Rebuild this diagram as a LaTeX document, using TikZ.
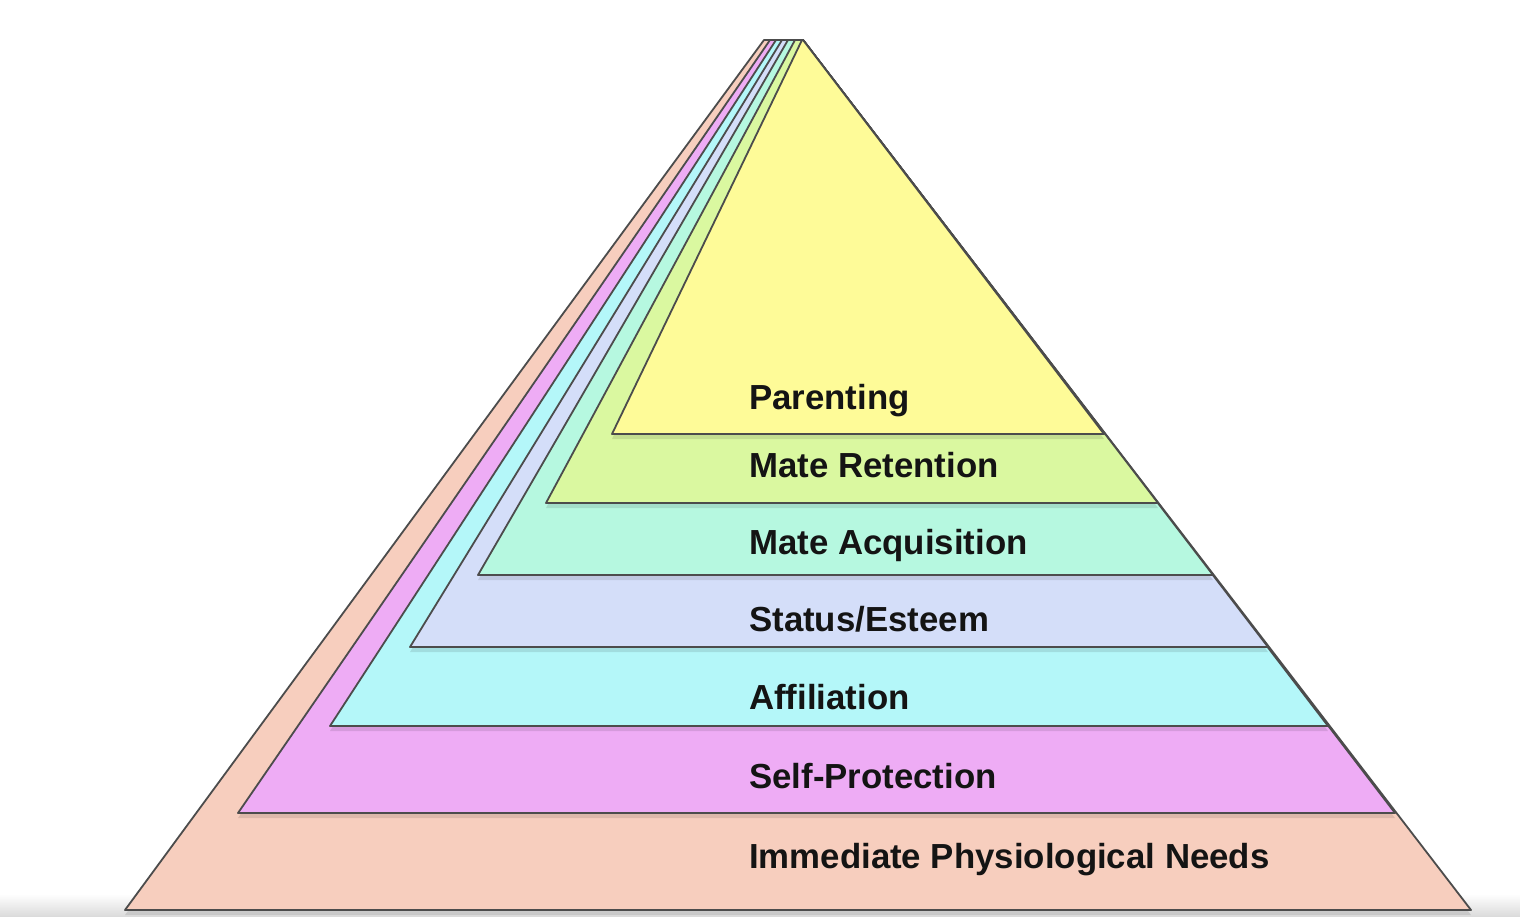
\documentclass[tikz,border=0pt]{standalone}
\usepackage{fontspec}
\setmainfont{Liberation Sans}
\usetikzlibrary{positioning}
\definecolor{physio}{RGB}{247,206,190}
\definecolor{protect}{RGB}{238,172,245}
\definecolor{affil}{RGB}{180,247,249}
\definecolor{status}{RGB}{212,222,249}
\definecolor{acquis}{RGB}{182,248,224}
\definecolor{retain}{RGB}{218,248,160}
\definecolor{parent}{RGB}{254,251,152}

\begin{document}
\begin{tikzpicture}[
    x=1pt,y=-1pt,
    layer/.style={draw=black!70,line width=1.8pt,line join=round},
    drop/.style={fill=black,opacity=0.10},
    lbl/.style={anchor=base west,inner sep=0pt,text=black!92,
      font=\fontsize{34.8}{40}\selectfont\bfseries}]
  \useasboundingbox (0,0) rectangle (1520,916);
  \shade[top color=white,bottom color=black!14] (0,894) rectangle (1520,916);

  % layers, bottom first, each with a soft shadow under its base
  \fill[drop] (764,44) -- (125,915) -- (1471,915) -- (803,44) -- cycle;
  \filldraw[layer,fill=physio] (764,40) -- (125,910) -- (1471,910) -- (803,40) -- cycle;
  \fill[drop] (770,44) -- (238,818) -- (1395,818) -- (803,44) -- cycle;
  \filldraw[layer,fill=protect] (770,40) -- (238,813) -- (1395,813) -- (803,40) -- cycle;
  \fill[drop] (776,44) -- (330,731) -- (1328,731) -- (803,44) -- cycle;
  \filldraw[layer,fill=affil] (776,40) -- (330,726) -- (1328,726) -- (803,40) -- cycle;
  \fill[drop] (782,44) -- (410,652) -- (1268,652) -- (803,44) -- cycle;
  \filldraw[layer,fill=status] (782,40) -- (410,647) -- (1268,647) -- (803,40) -- cycle;
  \fill[drop] (788,44) -- (478,580) -- (1213,580) -- (803,44) -- cycle;
  \filldraw[layer,fill=acquis] (788,40) -- (478,575) -- (1213,575) -- (803,40) -- cycle;
  \fill[drop] (795,44) -- (546,508) -- (1158,508) -- (803,44) -- cycle;
  \filldraw[layer,fill=retain] (795,40) -- (546,503) -- (1158,503) -- (803,40) -- cycle;
  \fill[drop] (802,44) -- (612,439) -- (1104,439) -- (803,44) -- cycle;
  \filldraw[layer,fill=parent] (802,40) -- (612,434) -- (1104,434) -- (803,40) -- cycle;

  % labels
  \node[lbl] (parenting) at (749,409) {Parenting};
  \node[lbl] (retention) at (749,477) {Mate Retention};
  \node[lbl] (acquisition) at (749,554) {Mate Acquisition};
  \node[lbl] (esteem) at (749,631) {Status/Esteem};
  \node[lbl] (affiliation) at (749,709) {Affiliation};
  \node[lbl] (protection) at (749,788) {Self-Protection};
  \node[lbl] (needs) at (749,868) {Immediate Physiological Needs};
\end{tikzpicture}
\end{document}
